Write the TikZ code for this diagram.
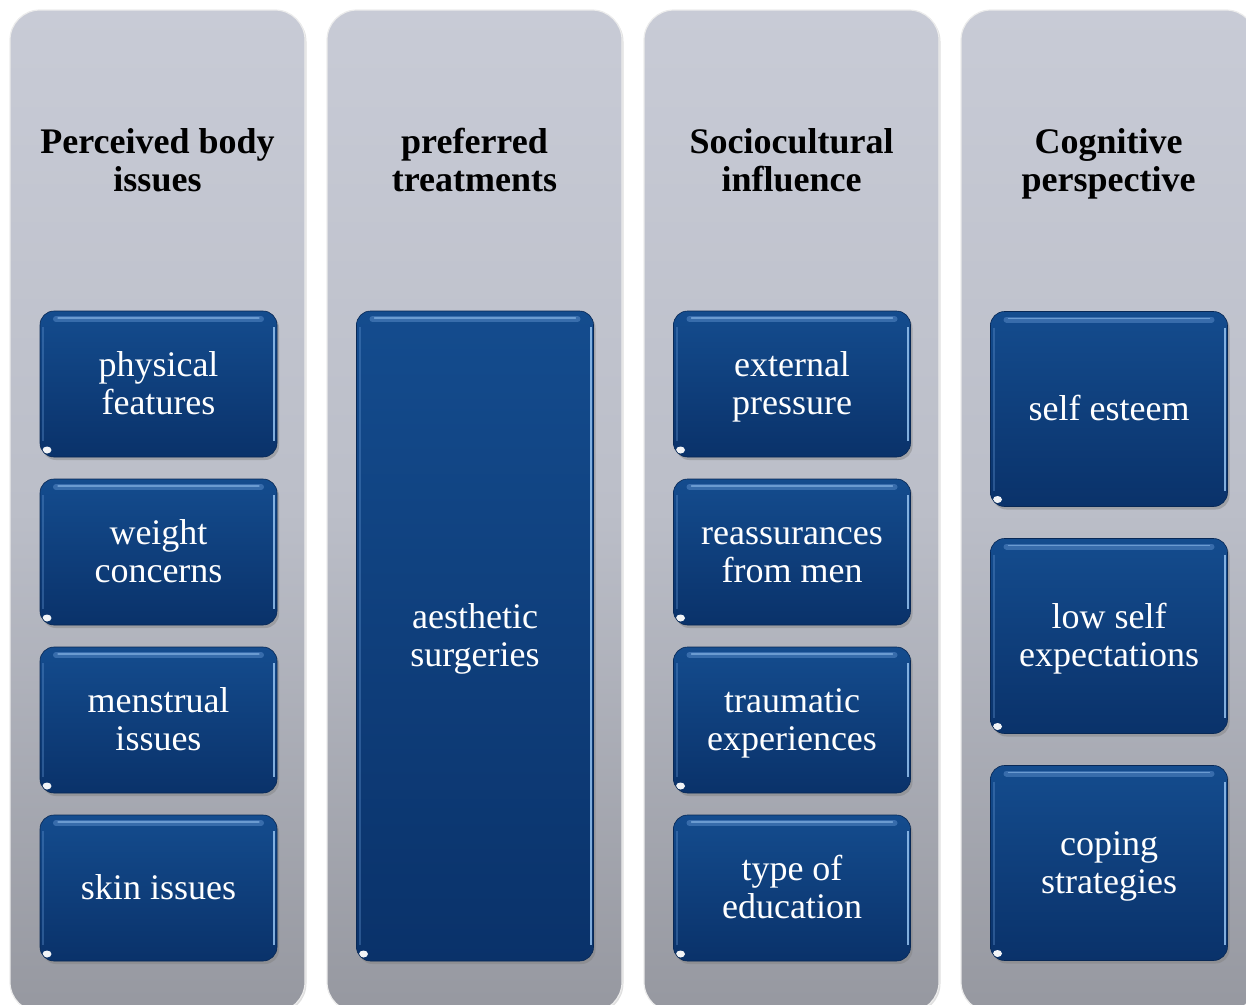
\documentclass[tikz,border=0pt]{standalone}
\usepackage{fontspec}
\setmainfont{Liberation Serif}
\usetikzlibrary{shadows}
\definecolor{colTop}{RGB}{200,203,214}
\definecolor{colMid}{RGB}{187,190,200}
\definecolor{colBot}{RGB}{150,152,160}
\definecolor{boxTop}{RGB}{20,76,142}
\definecolor{boxBot}{RGB}{10,50,106}
\definecolor{gloss}{RGB}{100,150,210}
\definecolor{rim}{RGB}{150,195,240}
\newcommand\lnstrut{\rule[-8pt]{0pt}{39pt}}
\newcommand\headfont{\bfseries\fontsize{36}{38}\selectfont\lineskiplimit -60pt\relax}
\newcommand\itemfont{\fontsize{36}{37.5}\selectfont\lineskiplimit -60pt\relax}
\tikzset{
  column/.style={rectangle, rounded corners=30pt, minimum width=295pt, minimum height=1002pt,
    top color=colTop, bottom color=colBot, middle color=colMid,
    draw=white!85!gray, line width=1.2pt,
    drop shadow={shadow xshift=1.5pt, shadow yshift=-1.5pt, opacity=0.25}},
  header/.style={font=\headfont, align=center, text=black},
  item/.style={rectangle, rounded corners=14pt, minimum width=237pt,
    top color=boxTop, bottom color=boxBot, draw=boxBot!80!black, line width=0.6pt,
    text=white, font=\itemfont, align=center,
    drop shadow={shadow xshift=2pt, shadow yshift=-3pt, opacity=0.45},
    path picture={
      \draw[gloss, line width=6pt, opacity=0.45, line cap=round]
        ([xshift=16pt,yshift=-8pt]path picture bounding box.north west) --
        ([xshift=-16pt,yshift=-8pt]path picture bounding box.north east);
      \draw[rim, line width=1.2pt, opacity=0.55, line cap=round]
        ([xshift=18pt,yshift=-7pt]path picture bounding box.north west) --
        ([xshift=-18pt,yshift=-7pt]path picture bounding box.north east);
      \draw[rim, line width=2pt, opacity=0.85]
        ([xshift=-3pt,yshift=-16pt]path picture bounding box.north east) --
        ([xshift=-3pt,yshift=16pt]path picture bounding box.south east);
      \draw[gloss, line width=2pt, opacity=0.35]
        ([xshift=3pt,yshift=-16pt]path picture bounding box.north west) --
        ([xshift=3pt,yshift=16pt]path picture bounding box.south west);
      \fill[white, opacity=0.95] ([xshift=7pt,yshift=7pt]path picture bounding box.south west) ellipse (4.5pt and 3.5pt);
    }},
  short/.style={item, minimum height=146pt},
  mid/.style={item, minimum height=195pt},
  tall/.style={item, minimum height=650pt},
}
\begin{document}
\begin{tikzpicture}[x=1pt,y=-1pt]
\useasboundingbox (0,0) rectangle (1246,1004);
% columns
\node[column] (c1) at (157.5,511) {};
\node[column] (c2) at (474.5,511) {};
\node[column] (c3) at (791.5,511) {};
\node[column] (c4) at (1108.5,511) {};
% headers
\node[header] (h1) at (157.5,160.5) {\lnstrut Perceived body\\\lnstrut issues};
\node[header] (h2) at (474.5,160.5) {\lnstrut preferred\\\lnstrut treatments};
\node[header] (h3) at (791.5,160.5) {\lnstrut Sociocultural\\\lnstrut influence};
\node[header] (h4) at (1108.5,160.5) {\lnstrut Cognitive\\\lnstrut perspective};
% column 1
\node[short] (a1) at (158.5,384) {\lnstrut physical\\\lnstrut features};
\node[short] (a2) at (158.5,552) {\lnstrut weight\\\lnstrut concerns};
\node[short] (a3) at (158.5,720) {\lnstrut menstrual\\\lnstrut issues};
\node[short] (a4) at (158.5,888) {\lnstrut skin issues};
% column 2
\node[tall] (b1) at (475,636) {\lnstrut aesthetic\\\lnstrut surgeries};
% column 3
\node[short] (s1) at (792,384) {\lnstrut external\\\lnstrut pressure};
\node[short] (s2) at (792,552) {\lnstrut reassurances\\\lnstrut from men};
\node[short] (s3) at (792,720) {\lnstrut traumatic\\\lnstrut experiences};
\node[short] (s4) at (792,888) {\lnstrut type of\\\lnstrut education};
% column 4
\node[mid] (g1) at (1109,409) {\lnstrut self esteem};
\node[mid] (g2) at (1109,636) {\lnstrut low self\\\lnstrut expectations};
\node[mid] (g3) at (1109,863) {\lnstrut coping\\\lnstrut strategies};
\end{tikzpicture}
\end{document}
